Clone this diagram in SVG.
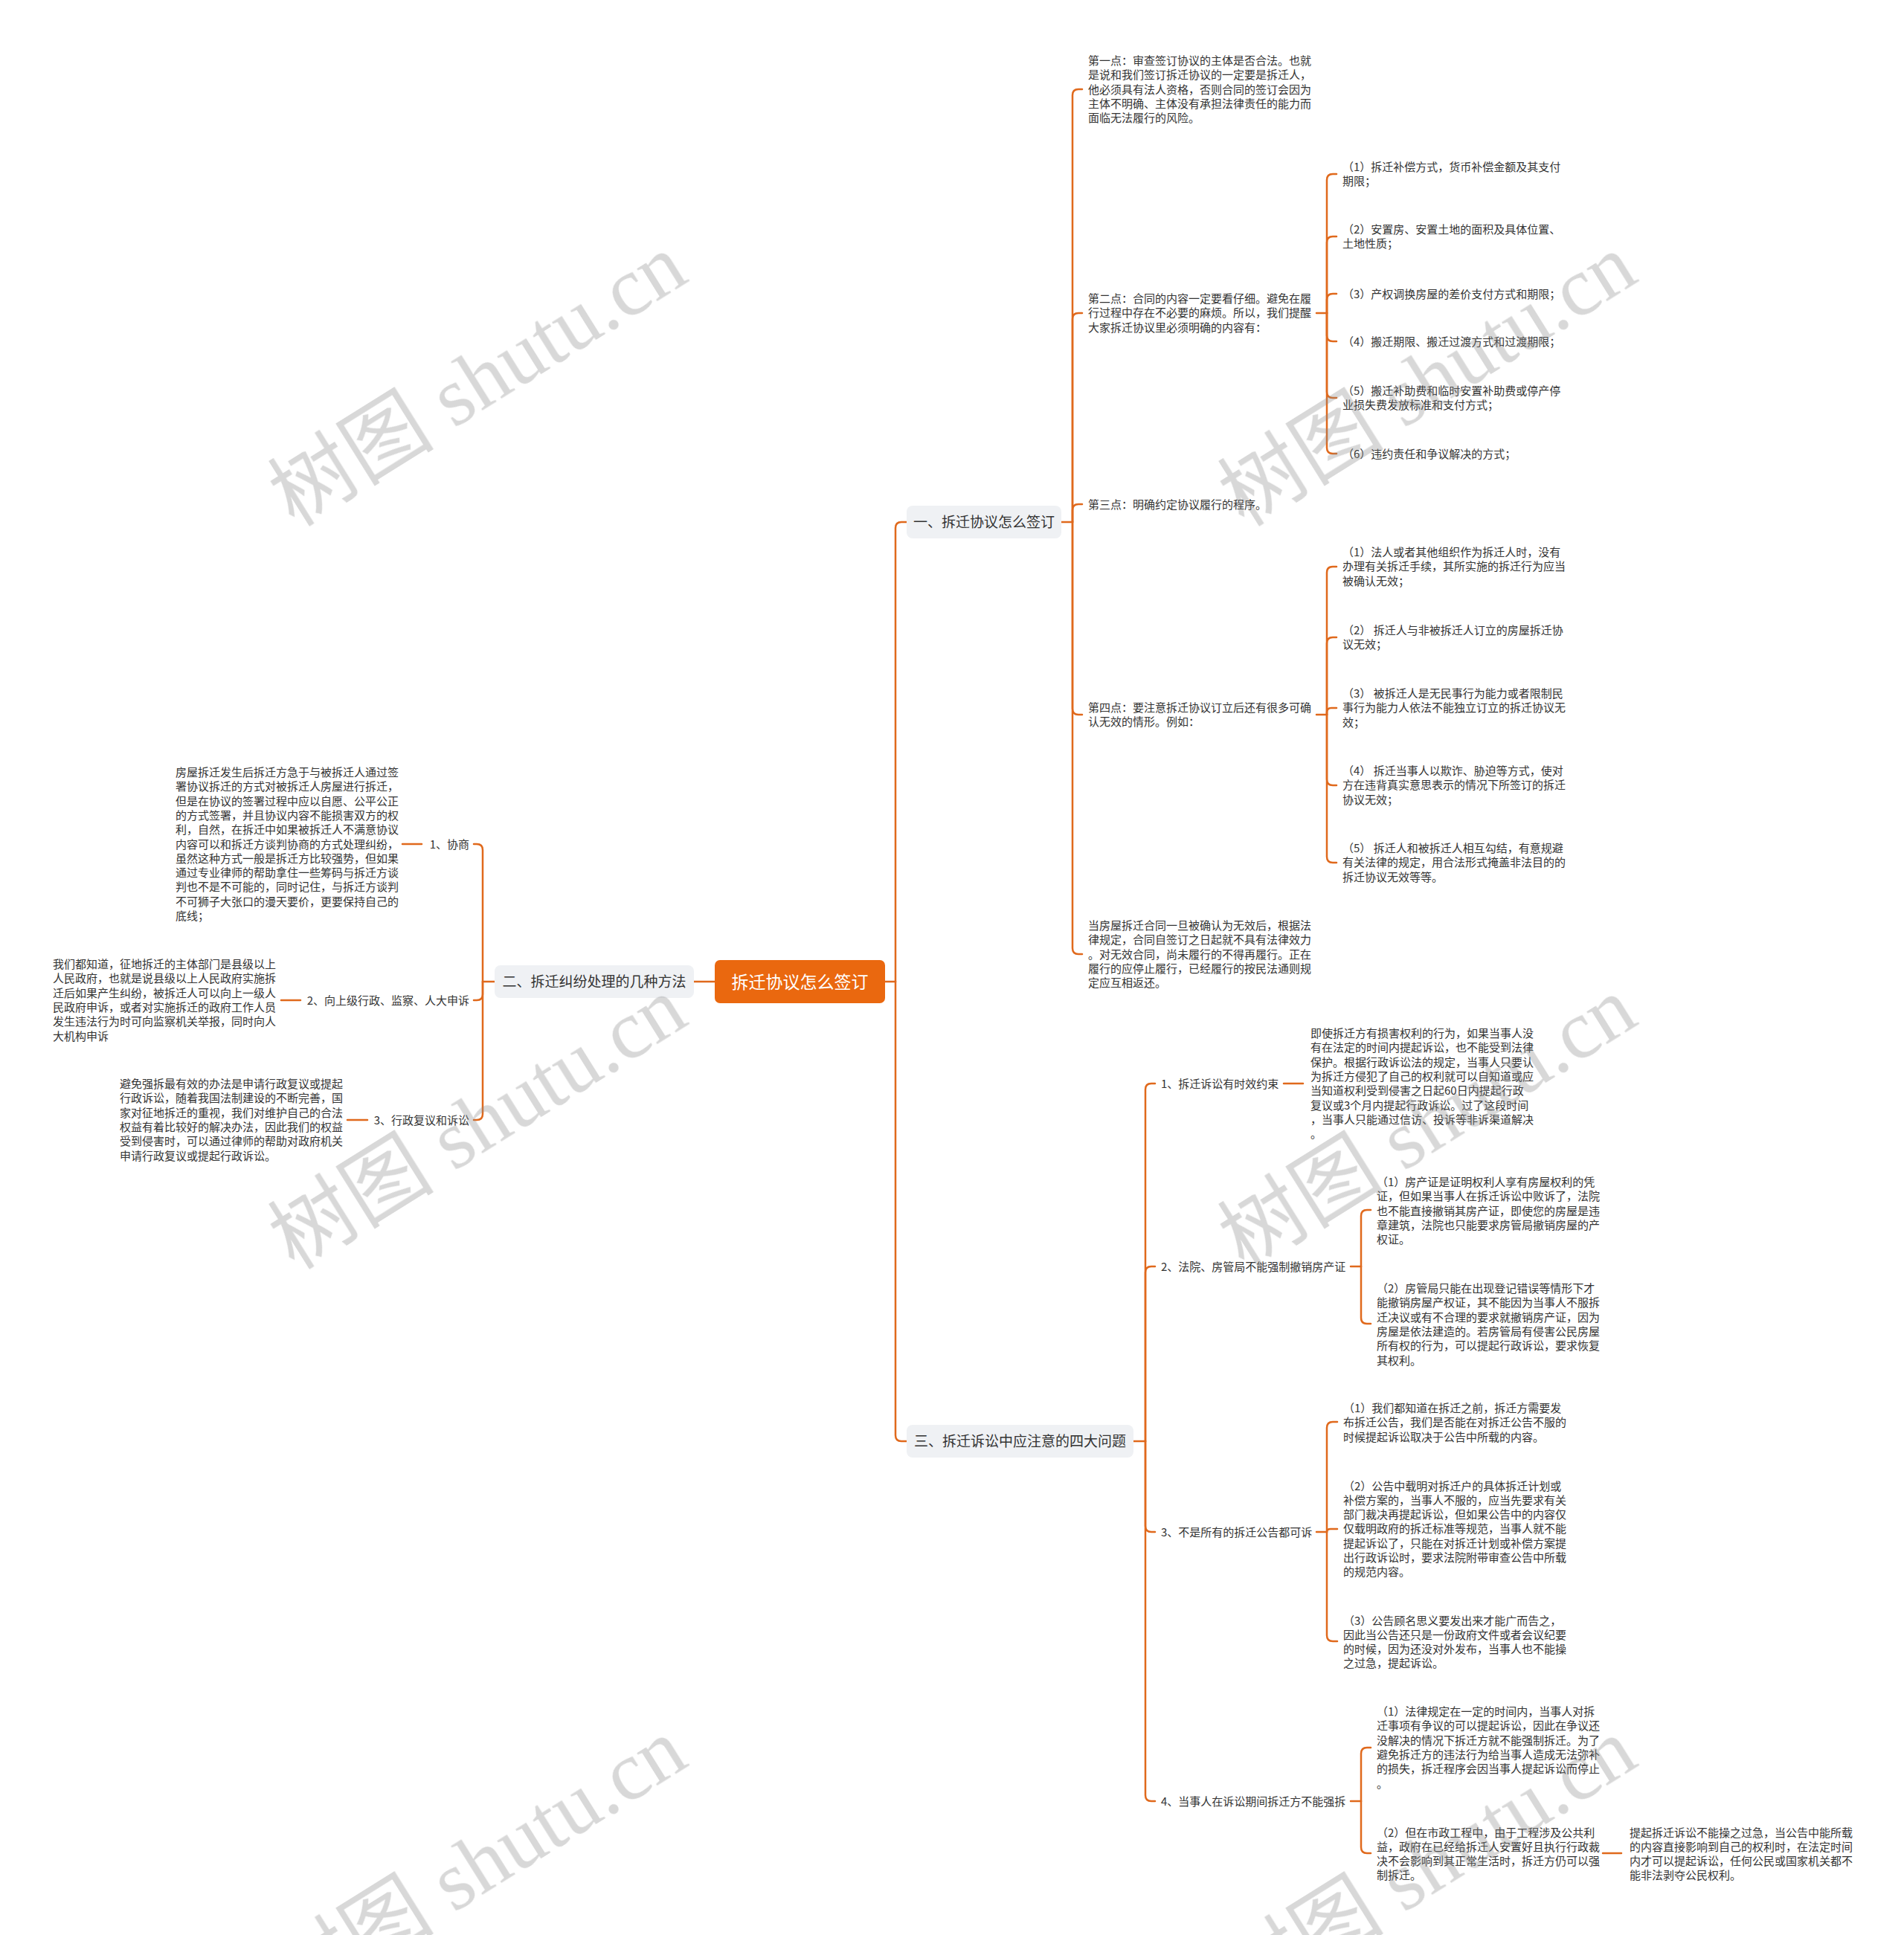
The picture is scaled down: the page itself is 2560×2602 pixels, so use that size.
<svg xmlns="http://www.w3.org/2000/svg" width="2560" height="2602" viewBox="0 0 2560 2602">
<style>
.t{font-family:"Noto Sans CJK SC","Liberation Sans",sans-serif;font-size:15px;fill:#333}
.n{font-family:"Noto Sans CJK SC","Liberation Sans",sans-serif;font-size:19px;fill:#333}
.box{fill:#EFF1F4}
.c{stroke:#E0691C;stroke-width:2.5;fill:none;stroke-linecap:round}
.wm{font-family:"Liberation Serif","Noto Sans CJK SC",serif;font-size:112px;fill:#888;opacity:.33}
</style>
<rect width="2560" height="2602" fill="#fff"/>
<g id="connectors" class="c">
<path d="M961,1320 H933"/>
<path d="M1190,1320 H1204"/>
<path d="M1204,1320 V710 Q1204,702 1212,702 H1219"/>
<path d="M1204,1320 V1930 Q1204,1938 1212,1938 H1219"/>
<path d="M1427,702 H1442"/>
<path d="M1442,702 V128 Q1442,120 1450,120 H1455"/>
<path d="M1442,702 V429 Q1442,421 1450,421 H1455"/>
<path d="M1442,702 V686 Q1442,678 1450,678 H1455"/>
<path d="M1442,702 V953 Q1442,961 1450,961 H1455"/>
<path d="M1442,702 V1275 Q1442,1283 1450,1283 H1455"/>
<path d="M1770,421 H1784"/>
<path d="M1784,421 V242 Q1784,234 1792,234 H1797"/>
<path d="M1784,421 V326 Q1784,318 1792,318 H1797"/>
<path d="M1784,421 V403 Q1784,395 1792,395 H1797"/>
<path d="M1784,421 V451 Q1784,459 1792,459 H1797"/>
<path d="M1784,421 V527 Q1784,535 1792,535 H1797"/>
<path d="M1784,421 V602 Q1784,610 1792,610 H1797"/>
<path d="M1770,961 H1784"/>
<path d="M1784,961 V770 Q1784,762 1792,762 H1797"/>
<path d="M1784,961 V865 Q1784,857 1792,857 H1797"/>
<path d="M1784,961 V958 Q1784,952 1790,952 H1797"/>
<path d="M1784,961 V1048 Q1784,1056 1792,1056 H1797"/>
<path d="M1784,961 V1152 Q1784,1160 1792,1160 H1797"/>
<path d="M665,1320 H649"/>
<path d="M649,1320 V1143 Q649,1135 641,1135 H637"/>
<path d="M649,1320 V1337 Q649,1345 641,1345 H637"/>
<path d="M649,1320 V1498 Q649,1506 641,1506 H637"/>
<path d="M567,1135 H541"/>
<path d="M404,1345 H378"/>
<path d="M494,1506 H467"/>
<path d="M1524,1938 H1540"/>
<path d="M1540,1938 V1465 Q1540,1457 1548,1457 H1553"/>
<path d="M1540,1938 V1711 Q1540,1703 1548,1703 H1553"/>
<path d="M1540,1938 V2052 Q1540,2060 1548,2060 H1553"/>
<path d="M1540,1938 V2414 Q1540,2422 1548,2422 H1553"/>
<path d="M1726,1457 H1752"/>
<path d="M1816,1703 H1830"/>
<path d="M1830,1703 V1635 Q1830,1627 1838,1627 H1843"/>
<path d="M1830,1703 V1772 Q1830,1780 1838,1780 H1843"/>
<path d="M1770,2060 H1784"/>
<path d="M1784,2060 V1920 Q1784,1912 1792,1912 H1798"/>
<path d="M1784,2060 Q1784,2056 1789,2056 H1798"/>
<path d="M1784,2060 V2199 Q1784,2207 1792,2207 H1798"/>
<path d="M1816,2422 H1830"/>
<path d="M1830,2422 V2358 Q1830,2350 1838,2350 H1843"/>
<path d="M1830,2422 V2484 Q1830,2492 1838,2492 H1843"/>
<path d="M2155,2492 H2180"/>
</g>
<g id="root">
<rect x="961" y="1291" width="229" height="58" rx="7" fill="#EA680F"/>
<text x="1075.5" y="1328.5" text-anchor="middle" style="font-family:'Noto Sans CJK SC','Liberation Sans',sans-serif;font-size:23px;fill:#fff">拆迁协议怎么签订</text>
</g>
<g id="b1">
<rect class="box" x="1219" y="680" width="208" height="44" rx="8"/>
<text class="n" x="1323" y="709" text-anchor="middle">一、拆迁协议怎么签订</text>
</g>
<g id="b2">
<rect class="box" x="665" y="1298" width="268" height="44" rx="8"/>
<text class="n" x="799" y="1327" text-anchor="middle">二、拆迁纠纷处理的几种方法</text>
</g>
<g id="b3">
<rect class="box" x="1219" y="1916" width="305" height="44" rx="8"/>
<text class="n" x="1371.5" y="1945" text-anchor="middle">三、拆迁诉讼中应注意的四大问题</text>
</g>
<g id="b1-1"><text class="t" x="1463" y="87"><tspan x="1463">第一点：审查签订协议的主体是否合法。也就</tspan><tspan x="1463" dy="19.3">是说和我们签订拆迁协议的一定要是拆迁人，</tspan><tspan x="1463" dy="19.3">他必须具有法人资格，否则合同的签订会因为</tspan><tspan x="1463" dy="19.3">主体不明确、主体没有承担法律责任的能力而</tspan><tspan x="1463" dy="19.3">面临无法履行的风险。</tspan></text></g>
<g id="b1-2"><text class="t" x="1463" y="407"><tspan x="1463">第二点：合同的内容一定要看仔细。避免在履</tspan><tspan x="1463" dy="19.3">行过程中存在不必要的麻烦。所以，我们提醒</tspan><tspan x="1463" dy="19.3">大家拆迁协议里必须明确的内容有：</tspan></text></g>
<g id="b1-2-1"><text class="t" x="1805" y="230"><tspan x="1805">（1）拆迁补偿方式，货币补偿金额及其支付</tspan><tspan x="1805" dy="19.3">期限；</tspan></text></g>
<g id="b1-2-2"><text class="t" x="1805" y="314"><tspan x="1805">（2）安置房、安置土地的面积及具体位置、</tspan><tspan x="1805" dy="19.3">土地性质；</tspan></text></g>
<g id="b1-2-3"><text class="t" x="1805" y="400.5">（3）产权调换房屋的差价支付方式和期限；</text></g>
<g id="b1-2-4"><text class="t" x="1805" y="464.5">（4）搬迁期限、搬迁过渡方式和过渡期限；</text></g>
<g id="b1-2-5"><text class="t" x="1805" y="531"><tspan x="1805">（5）搬迁补助费和临时安置补助费或停产停</tspan><tspan x="1805" dy="19.3">业损失费发放标准和支付方式；</tspan></text></g>
<g id="b1-2-6"><text class="t" x="1805" y="615.5">（6）违约责任和争议解决的方式；</text></g>
<g id="b1-3"><text class="t" x="1463" y="683.5">第三点：明确约定协议履行的程序。</text></g>
<g id="b1-4"><text class="t" x="1463" y="957"><tspan x="1463">第四点：要注意拆迁协议订立后还有很多可确</tspan><tspan x="1463" dy="19.3">认无效的情形。例如：</tspan></text></g>
<g id="b1-4-1"><text class="t" x="1805" y="748"><tspan x="1805">（1）法人或者其他组织作为拆迁人时，没有</tspan><tspan x="1805" dy="19.3">办理有关拆迁手续，其所实施的拆迁行为应当</tspan><tspan x="1805" dy="19.3">被确认无效；</tspan></text></g>
<g id="b1-4-2"><text class="t" x="1805" y="853"><tspan x="1805">（2） 拆迁人与非被拆迁人订立的房屋拆迁协</tspan><tspan x="1805" dy="19.3">议无效；</tspan></text></g>
<g id="b1-4-3"><text class="t" x="1805" y="938"><tspan x="1805">（3） 被拆迁人是无民事行为能力或者限制民</tspan><tspan x="1805" dy="19.3">事行为能力人依法不能独立订立的拆迁协议无</tspan><tspan x="1805" dy="19.3">效；</tspan></text></g>
<g id="b1-4-4"><text class="t" x="1805" y="1042"><tspan x="1805">（4） 拆迁当事人以欺诈、胁迫等方式，使对</tspan><tspan x="1805" dy="19.3">方在违背真实意思表示的情况下所签订的拆迁</tspan><tspan x="1805" dy="19.3">协议无效；</tspan></text></g>
<g id="b1-4-5"><text class="t" x="1805" y="1146"><tspan x="1805">（5） 拆迁人和被拆迁人相互勾结，有意规避</tspan><tspan x="1805" dy="19.3">有关法律的规定，用合法形式掩盖非法目的的</tspan><tspan x="1805" dy="19.3">拆迁协议无效等等。</tspan></text></g>
<g id="b1-5"><text class="t" x="1463" y="1250"><tspan x="1463">当房屋拆迁合同一旦被确认为无效后，根据法</tspan><tspan x="1463" dy="19.3">律规定，合同自签订之日起就不具有法律效力</tspan><tspan x="1463" dy="19.3">。对无效合同，尚未履行的不得再履行。正在</tspan><tspan x="1463" dy="19.3">履行的应停止履行，已经履行的按民法通则规</tspan><tspan x="1463" dy="19.3">定应互相返还。</tspan></text></g>
<g id="b2-1"><text class="t" x="631" y="1140.5" text-anchor="end">1、协商</text></g>
<g id="b2-1-1"><text class="t" x="236" y="1044"><tspan x="236">房屋拆迁发生后拆迁方急于与被拆迁人通过签</tspan><tspan x="236" dy="19.3">署协议拆迁的方式对被拆迁人房屋进行拆迁，</tspan><tspan x="236" dy="19.3">但是在协议的签署过程中应以自愿、公平公正</tspan><tspan x="236" dy="19.3">的方式签署，并且协议内容不能损害双方的权</tspan><tspan x="236" dy="19.3">利，自然，在拆迁中如果被拆迁人不满意协议</tspan><tspan x="236" dy="19.3">内容可以和拆迁方谈判协商的方式处理纠纷，</tspan><tspan x="236" dy="19.3">虽然这种方式一般是拆迁方比较强势，但如果</tspan><tspan x="236" dy="19.3">通过专业律师的帮助拿住一些筹码与拆迁方谈</tspan><tspan x="236" dy="19.3">判也不是不可能的，同时记住，与拆迁方谈判</tspan><tspan x="236" dy="19.3">不可狮子大张口的漫天要价，更要保持自己的</tspan><tspan x="236" dy="19.3">底线；</tspan></text></g>
<g id="b2-2"><text class="t" x="631" y="1350.5" text-anchor="end">2、向上级行政、监察、人大申诉</text></g>
<g id="b2-2-1"><text class="t" x="71" y="1302"><tspan x="71">我们都知道，征地拆迁的主体部门是县级以上</tspan><tspan x="71" dy="19.3">人民政府，也就是说县级以上人民政府实施拆</tspan><tspan x="71" dy="19.3">迁后如果产生纠纷，被拆迁人可以向上一级人</tspan><tspan x="71" dy="19.3">民政府申诉，或者对实施拆迁的政府工作人员</tspan><tspan x="71" dy="19.3">发生违法行为时可向监察机关举报，同时向人</tspan><tspan x="71" dy="19.3">大机构申诉</tspan></text></g>
<g id="b2-3"><text class="t" x="631" y="1511.5" text-anchor="end">3、行政复议和诉讼</text></g>
<g id="b2-3-1"><text class="t" x="161" y="1463"><tspan x="161">避免强拆最有效的办法是申请行政复议或提起</tspan><tspan x="161" dy="19.3">行政诉讼，随着我国法制建设的不断完善，国</tspan><tspan x="161" dy="19.3">家对征地拆迁的重视，我们对维护自己的合法</tspan><tspan x="161" dy="19.3">权益有着比较好的解决办法，因此我们的权益</tspan><tspan x="161" dy="19.3">受到侵害时，可以通过律师的帮助对政府机关</tspan><tspan x="161" dy="19.3">申请行政复议或提起行政诉讼。</tspan></text></g>
<g id="b3-1"><text class="t" x="1561" y="1462.5">1、拆迁诉讼有时效约束</text></g>
<g id="b3-1-1"><text class="t" x="1762" y="1395"><tspan x="1762">即使拆迁方有损害权利的行为，如果当事人没</tspan><tspan x="1762" dy="19.3">有在法定的时间内提起诉讼，也不能受到法律</tspan><tspan x="1762" dy="19.3">保护。根据行政诉讼法的规定，当事人只要认</tspan><tspan x="1762" dy="19.3">为拆迁方侵犯了自己的权利就可以自知道或应</tspan><tspan x="1762" dy="19.3">当知道权利受到侵害之日起60日内提起行政</tspan><tspan x="1762" dy="19.3">复议或3个月内提起行政诉讼。过了这段时间</tspan><tspan x="1762" dy="19.3">，当事人只能通过信访、投诉等非诉渠道解决</tspan><tspan x="1762" dy="19.3">。</tspan></text></g>
<g id="b3-2"><text class="t" x="1561" y="1708.5">2、法院、房管局不能强制撤销房产证</text></g>
<g id="b3-2-1"><text class="t" x="1851" y="1595"><tspan x="1851">（1）房产证是证明权利人享有房屋权利的凭</tspan><tspan x="1851" dy="19.3">证，但如果当事人在拆迁诉讼中败诉了，法院</tspan><tspan x="1851" dy="19.3">也不能直接撤销其房产证，即使您的房屋是违</tspan><tspan x="1851" dy="19.3">章建筑，法院也只能要求房管局撤销房屋的产</tspan><tspan x="1851" dy="19.3">权证。</tspan></text></g>
<g id="b3-2-2"><text class="t" x="1851" y="1738"><tspan x="1851">（2）房管局只能在出现登记错误等情形下才</tspan><tspan x="1851" dy="19.3">能撤销房屋产权证，其不能因为当事人不服拆</tspan><tspan x="1851" dy="19.3">迁决议或有不合理的要求就撤销房产证，因为</tspan><tspan x="1851" dy="19.3">房屋是依法建造的。若房管局有侵害公民房屋</tspan><tspan x="1851" dy="19.3">所有权的行为，可以提起行政诉讼，要求恢复</tspan><tspan x="1851" dy="19.3">其权利。</tspan></text></g>
<g id="b3-3"><text class="t" x="1561" y="2065.5">3、不是所有的拆迁公告都可诉</text></g>
<g id="b3-3-1"><text class="t" x="1806" y="1899"><tspan x="1806">（1）我们都知道在拆迁之前，拆迁方需要发</tspan><tspan x="1806" dy="19.3">布拆迁公告，我们是否能在对拆迁公告不服的</tspan><tspan x="1806" dy="19.3">时候提起诉讼取决于公告中所载的内容。</tspan></text></g>
<g id="b3-3-2"><text class="t" x="1806" y="2003.5"><tspan x="1806">（2）公告中载明对拆迁户的具体拆迁计划或</tspan><tspan x="1806" dy="19.3">补偿方案的，当事人不服的，应当先要求有关</tspan><tspan x="1806" dy="19.3">部门裁决再提起诉讼，但如果公告中的内容仅</tspan><tspan x="1806" dy="19.3">仅载明政府的拆迁标准等规范，当事人就不能</tspan><tspan x="1806" dy="19.3">提起诉讼了，只能在对拆迁计划或补偿方案提</tspan><tspan x="1806" dy="19.3">出行政诉讼时，要求法院附带审查公告中所载</tspan><tspan x="1806" dy="19.3">的规范内容。</tspan></text></g>
<g id="b3-3-3"><text class="t" x="1806" y="2184.5"><tspan x="1806">（3）公告顾名思义要发出来才能广而告之，</tspan><tspan x="1806" dy="19.3">因此当公告还只是一份政府文件或者会议纪要</tspan><tspan x="1806" dy="19.3">的时候，因为还没对外发布，当事人也不能操</tspan><tspan x="1806" dy="19.3">之过急，提起诉讼。</tspan></text></g>
<g id="b3-4"><text class="t" x="1561" y="2427.5">4、当事人在诉讼期间拆迁方不能强拆</text></g>
<g id="b3-4-1"><text class="t" x="1851" y="2307"><tspan x="1851">（1）法律规定在一定的时间内，当事人对拆</tspan><tspan x="1851" dy="19.3">迁事项有争议的可以提起诉讼，因此在争议还</tspan><tspan x="1851" dy="19.3">没解决的情况下拆迁方就不能强制拆迁。为了</tspan><tspan x="1851" dy="19.3">避免拆迁方的违法行为给当事人造成无法弥补</tspan><tspan x="1851" dy="19.3">的损失，拆迁程序会因当事人提起诉讼而停止</tspan><tspan x="1851" dy="19.3">。</tspan></text></g>
<g id="b3-4-2"><text class="t" x="1851" y="2469.5"><tspan x="1851">（2）但在市政工程中，由于工程涉及公共利</tspan><tspan x="1851" dy="19.3">益，政府在已经给拆迁人安置好且执行行政裁</tspan><tspan x="1851" dy="19.3">决不会影响到其正常生活时，拆迁方仍可以强</tspan><tspan x="1851" dy="19.3">制拆迁。</tspan></text></g>
<g id="b3-4-2-1"><text class="t" x="2191" y="2469.5"><tspan x="2191">提起拆迁诉讼不能操之过急，当公告中能所载</tspan><tspan x="2191" dy="19.3">的内容直接影响到自己的权利时，在法定时间</tspan><tspan x="2191" dy="19.3">内才可以提起诉讼，任何公民或国家机关都不</tspan><tspan x="2191" dy="19.3">能非法剥夺公民权利。</tspan></text></g>
<g id="watermarks" class="wm">
<text transform="translate(644,514) rotate(-32)" y="35" text-anchor="middle">树图 shutu.cn</text>
<text transform="translate(1921,514) rotate(-32)" y="35" text-anchor="middle">树图 shutu.cn</text>
<text transform="translate(644,1513) rotate(-32)" y="35" text-anchor="middle">树图 shutu.cn</text>
<text transform="translate(1921,1513) rotate(-32)" y="35" text-anchor="middle">树图 shutu.cn</text>
<text transform="translate(644,2510) rotate(-32)" y="35" text-anchor="middle">树图 shutu.cn</text>
<text transform="translate(1921,2510) rotate(-32)" y="35" text-anchor="middle">树图 shutu.cn</text>
</g>
</svg>
